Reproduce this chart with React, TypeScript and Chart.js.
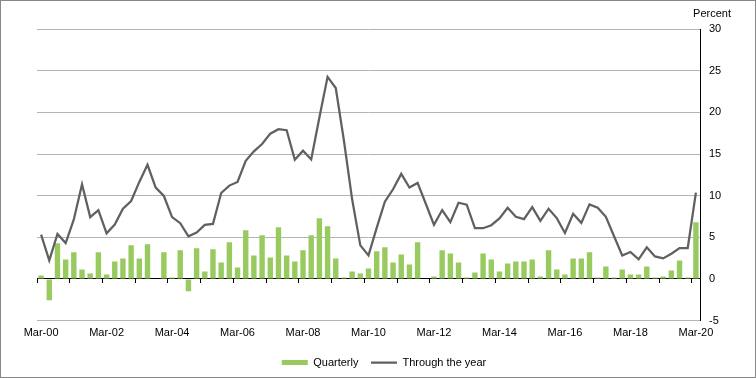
import React, { useEffect, useRef } from "react";
import { Chart, registerables } from "chart.js";

Chart.register(...registerables);

const years = ["00","01","02","03","04","05","06","07","08","09","10","11","12","13","14","15","16","17","18","19","20"];
const months = ["Mar", "Jun", "Sep", "Dec"];
const categories: string[] = [];
years.forEach((y, yi) => {
  months.forEach((m, mi) => {
    if (yi === years.length - 1 && mi > 0) return;
    categories.push(`${m}-${y}`);
  });
});

const quarterly = [
  0.4, -2.58, 4.27, 2.34, 3.19, 1.13, 0.65, 3.19, 0.52, 2.1,
  2.46, 4.03, 2.46, 4.15, 0.0, 3.19, 0.16, 3.43, -1.49, 3.67,
  0.89, 3.55, 1.98, 4.4, 1.37, 5.85, 2.82, 5.24, 2.58, 6.21,
  2.82, 2.1, 3.43, 5.24, 7.3, 6.33, 2.46, 0.16, 0.89, 0.65,
  1.25, 3.31, 3.79, 1.98, 2.94, 1.73, 4.4, 0.0, 0.28, 3.43,
  3.06, 1.98, 0.16, 0.77, 3.06, 2.34, 0.89, 1.85, 2.1, 2.1,
  2.34, 0.28, 3.43, 1.13, 0.52, 2.46, 2.46, 3.19, 0.16, 1.49,
  0.16, 1.13, 0.52, 0.52, 1.49, 0.16, 0.28, 1.01, 2.22, 0.16,
  6.81,
];

const throughTheYear = [
  5.32, 2.22, 5.4, 4.31, 7.14, 11.37, 7.42, 8.27, 5.48, 6.53,
  8.43, 9.35, 11.65, 13.71, 10.97, 9.96, 7.42, 6.69, 5.12, 5.56,
  6.49, 6.61, 10.32, 11.21, 11.65, 14.19, 15.32, 16.2, 17.45, 17.98,
  17.86, 14.31, 15.4, 14.35, 19.4, 24.27, 22.94, 16.6, 9.56, 4.03,
  2.82, 6.13, 9.27, 10.77, 12.62, 10.97, 11.53, 9.03, 6.49, 8.27,
  6.81, 9.15, 8.91, 6.09, 6.09, 6.45, 7.26, 8.55, 7.46, 7.18,
  8.63, 6.98, 8.43, 7.3, 5.52, 7.82, 6.73, 8.95, 8.55, 7.46,
  5.12, 2.82, 3.23, 2.34, 3.79, 2.7, 2.46, 3.02, 3.71, 3.71,
  10.36,
];

const yMin = -5;
const yMax = 30;
const yStep = 5;
const labelEvery = 8;
const tickEvery = 4;

const FONT = "'Liberation Sans', Arial, sans-serif";

export default function App() {
  const canvasRef = useRef<HTMLCanvasElement | null>(null);

  useEffect(() => {
    document.body.style.margin = "0";
    const canvas = canvasRef.current;
    if (!canvas) return;
    const chart = new Chart(canvas, {
      data: {
        labels: categories,
        datasets: [
          {
            type: "bar",
            label: "Quarterly",
            data: quarterly,
            backgroundColor: "#99ca60",
            borderWidth: 0,
            barPercentage: 0.66,
            categoryPercentage: 1,
            pointStyle: "rect",
            xAxisID: "x",
            yAxisID: "y",
            order: 1,
          } as any,
          {
            type: "line",
            label: "Through the year",
            data: throughTheYear,
            borderColor: "#606060",
            backgroundColor: "#606060",
            borderWidth: 2.25,
            pointRadius: 0,
            pointStyle: "line",
            tension: 0,
            xAxisID: "x",
            yAxisID: "y",
            order: 0,
          } as any,
        ],
      },
      options: {
        animation: false,
        responsive: false,
        devicePixelRatio: 1,
        layout: { padding: { top: 7, bottom: 0, left: 37, right: 25 } },
        plugins: {
          title: {
            display: true,
            text: "Percent",
            align: "end",
            color: "#000",
            font: { family: FONT, size: 11, weight: "normal" },
            padding: { top: 0, bottom: 9 },
          },
          legend: {
            position: "bottom",
            labels: {
              usePointStyle: true,
              pointStyleWidth: 26,
              boxHeight: 5,
              padding: 12.5,
              color: "#000",
              font: { family: FONT, size: 11 },
              sort: (a: any, b: any) => a.datasetIndex - b.datasetIndex,
            },
          },
          tooltip: { enabled: false },
        },
        scales: {
          x: {
            type: "category",
            position: "bottom",
            offset: true,
            grid: { display: false, drawTicks: false },
            border: { display: false },
            ticks: {
              autoSkip: false,
              maxRotation: 0,
              minRotation: 0,
              padding: 6,
              color: "#000",
              font: { family: FONT, size: 11 },
              callback: (_v: any, i: number) => (i % labelEvery === 0 ? categories[i] : ""),
            },
            afterFit: (scale: any) => {
              scale.height = 24;
            },
          },
          x2: {
            type: "category",
            axis: "x",
            position: { y: 0 },
            offset: true,
            z: 1,
            grid: {
              drawOnChartArea: false,
              drawTicks: true,
              tickLength: 4,
              offset: true,
              lineWidth: 1,
              tickColor: (ctx: any) =>
                typeof ctx.index === "number" && ctx.index % tickEvery === 0 ? "#000" : "rgba(0,0,0,0)",
            },
            border: { display: true, color: "#000", width: 1 },
            ticks: { display: false },
          } as any,
          y: {
            type: "linear",
            position: "right",
            min: yMin,
            max: yMax,
            ticks: {
              stepSize: yStep,
              padding: 9,
              color: "#000",
              font: { family: FONT, size: 11 },
            },
            grid: { color: "#b4b4b4", lineWidth: 1, drawTicks: false },
            border: { display: true, color: "#000", width: 1 },
            afterFit: (scale: any) => {
              scale.width = 31;
            },
          },
        },
      } as any,
    });
    return () => chart.destroy();
  }, []);

  return (
    <div style={{ position: "relative", width: 756, height: 378 }}>
      <canvas ref={canvasRef} width={756} height={378} style={{ display: "block", width: 756, height: 378 }} />
      <div
        style={{
          position: "absolute",
          left: 0,
          top: 0,
          width: 756,
          height: 378,
          boxSizing: "border-box",
          border: "1px solid #878787",
          pointerEvents: "none",
        }}
      />
    </div>
  );
}
